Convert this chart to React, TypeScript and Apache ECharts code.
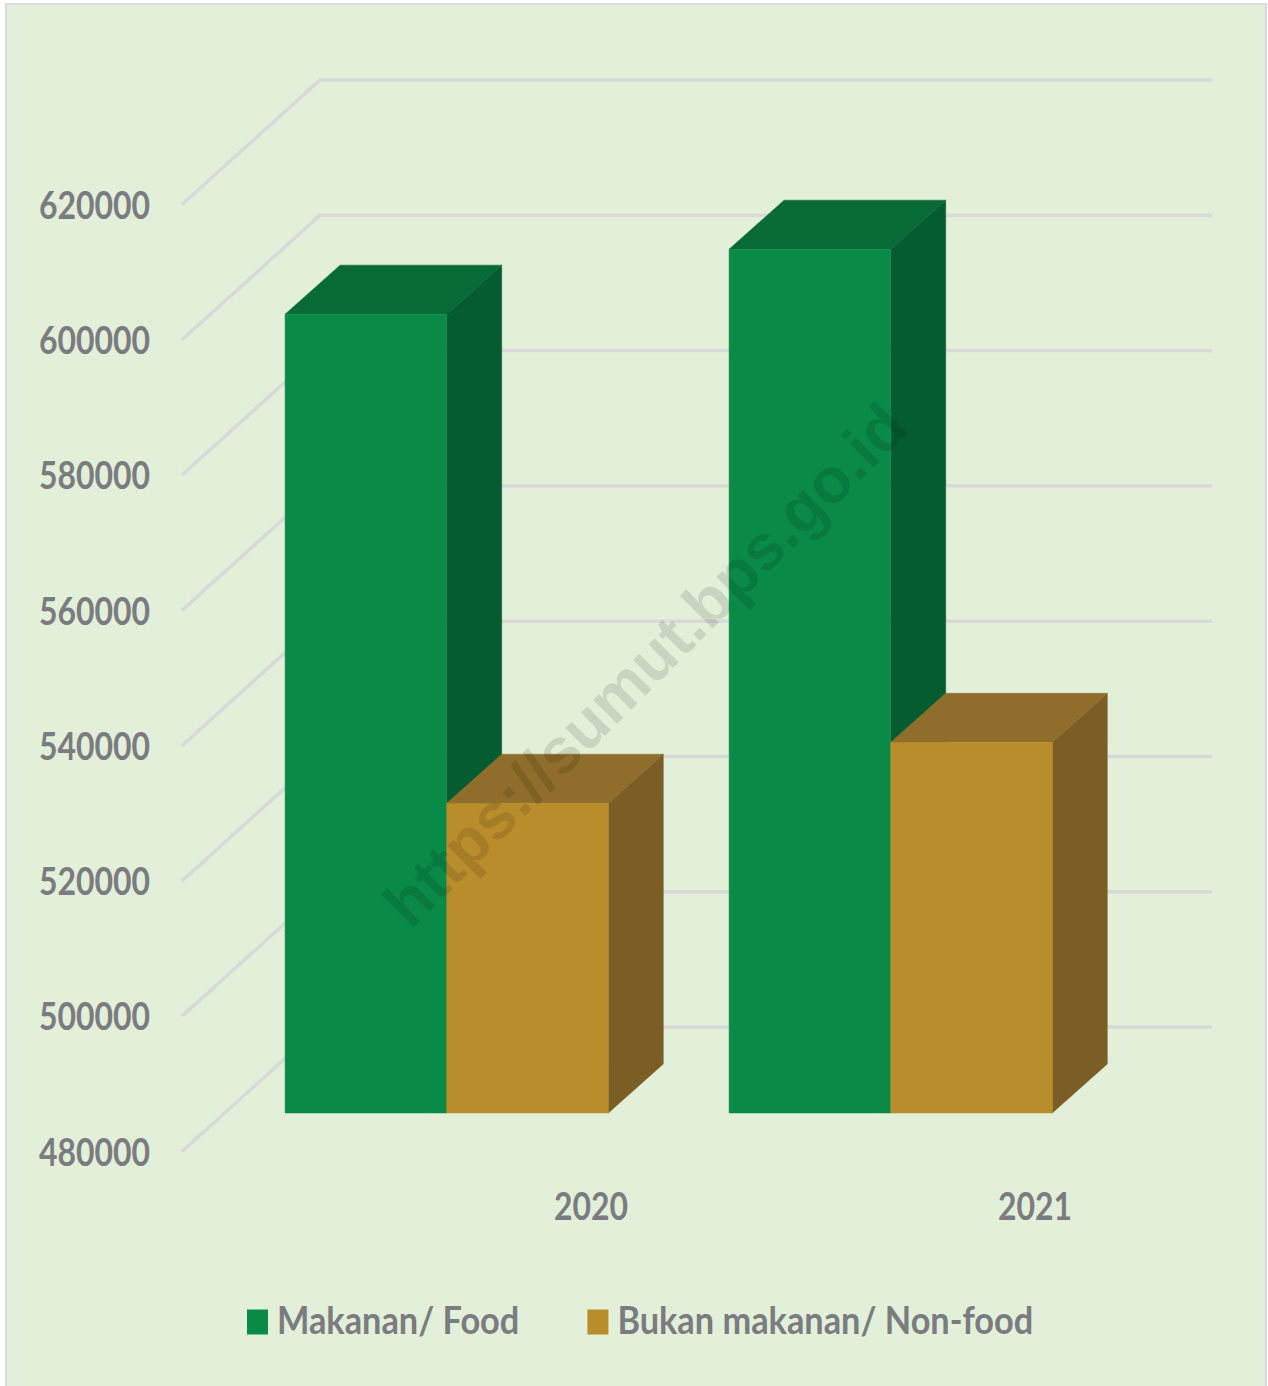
import React, { useEffect, useRef } from "react";
import * as echarts from "echarts";

const categories = ["2020", "2021"];
const yTicks = [480000, 500000, 520000, 540000, 560000, 580000, 600000, 620000];
const foodValues = [598100, 607700];
const nonFoodValues = [525800, 534800];
const legendNames = ["Makanan/ Food", "Bukan makanan/ Non-food"];
const FONT = "Lato, 'Liberation Sans', sans-serif";
const TEXT = "#7b7c80";
const WATERMARK = "https://sumut.bps.go.id";
const NARROW_AXIS = 0.84;
const NARROW_LEGEND = 0.903;

const WALL_DX = 138;
const WALL_DY = -124.5;
const FRONT_X = 182;
const BACK_RIGHT = 1212;
const BAR_DY = -38.5;
const CENTER_SHIFT = -144.3;
const BAR_W = 161.6;
const DEPTH_X = 55;
const DEPTH_Y = -49;

function barSeries(name: string, values: number[], side: -1 | 0, colors: string[]) {
  return {
    type: "custom",
    name,
    itemStyle: { color: colors[0] },
    encode: { x: 0, y: 1 },
    data: values.map((v, i) => [i, v]),
    renderItem: (_: any, api: any) => {
      const top = api.coord([api.value(0), api.value(1)]);
      const base = api.coord([api.value(0), 480000]);
      const x0 = top[0] + CENTER_SHIFT + side * BAR_W;
      const x1 = x0 + BAR_W;
      const yt = top[1] + BAR_DY;
      const yb = base[1] + BAR_DY;
      const poly = (points: number[][], fill: string) => ({
        type: "polygon",
        shape: { points },
        style: { fill, stroke: fill, lineWidth: 0.5 },
      });
      return {
        type: "group",
        children: [
          poly(
            [
              [x1, yt],
              [x1 + DEPTH_X, yt + DEPTH_Y],
              [x1 + DEPTH_X, yb + DEPTH_Y],
              [x1, yb],
            ],
            colors[2]
          ),
          poly(
            [
              [x0, yt],
              [x0 + DEPTH_X, yt + DEPTH_Y],
              [x1 + DEPTH_X, yt + DEPTH_Y],
              [x1, yt],
            ],
            colors[1]
          ),
          poly(
            [
              [x0, yt],
              [x1, yt],
              [x1, yb],
              [x0, yb],
            ],
            colors[0]
          ),
        ],
      };
    },
  };
}

// Calibri-like narrow look: squeeze each label around its own anchor point.
function narrowTexts(root: HTMLElement) {
  root.querySelectorAll("text").forEach((t) => {
    const content = t.textContent || "";
    if (content === WATERMARK || t.getAttribute("data-narrow")) return;
    const isLegend = legendNames.includes(content);
    const scale = isLegend ? NARROW_LEGEND : NARROW_AXIS;
    const dy = isLegend ? -3 : -1;
    const x = parseFloat(t.getAttribute("x") || "0");
    const old = t.getAttribute("transform") || "";
    t.setAttribute(
      "transform",
      `${old} translate(${x} ${dy}) scale(${scale} 1) translate(${-x} 0)`.trim()
    );
    t.setAttribute("data-narrow", "1");
  });
}

export default function App() {
  const ref = useRef<HTMLDivElement>(null);
  useEffect(() => {
    document.body.style.margin = "0";
    const chart = echarts.init(ref.current!, undefined, { renderer: "svg" });
    chart.on("finished", () => narrowTexts(ref.current!));
    chart.setOption({
      animation: false,
      backgroundColor: "#ffffff",
      grid: { left: 369, width: 888, top: 204.5, height: 947 },
      xAxis: {
        type: "category",
        data: categories,
        axisLine: { show: false },
        axisTick: { show: false },
        axisLabel: {
          margin: 35,
          fontFamily: FONT,
          fontWeight: "bold",
          fontSize: 38,
          color: TEXT,
        },
      },
      yAxis: {
        type: "value",
        min: 480000,
        max: 620000,
        interval: 20000,
        axisLine: { show: false },
        axisTick: { show: false },
        splitLine: { show: false },
        axisLabel: {
          margin: 219,
          fontFamily: FONT,
          fontWeight: "bold",
          fontSize: 38,
          color: TEXT,
          formatter: (v: number) => String(v),
        },
      },
      legend: {
        left: 242,
        top: 1298,
        icon: "rect",
        itemWidth: 21,
        itemHeight: 25,
        itemGap: 42,
        data: legendNames,
        textStyle: {
          fontFamily: FONT,
          fontWeight: "bold",
          fontSize: 38,
          color: TEXT,
          padding: [0, 0, 0, 4],
        },
      },
      graphic: [
        {
          type: "rect",
          z: -10,
          silent: true,
          shape: { x: 6, y: 4, width: 1260, height: 1390 },
          style: { fill: "#e2efd9", stroke: "#dbdbdb", lineWidth: 2 },
        },
        {
          type: "text",
          z: 100,
          silent: true,
          x: 645,
          y: 665,
          rotation: Math.PI / 4,
          style: {
            text: WATERMARK,
            fontFamily: "'Liberation Sans', sans-serif",
            fontWeight: "bold",
            fontSize: 64,
            fill: "rgba(0,0,0,0.11)",
            align: "center",
            verticalAlign: "middle",
          },
        },
      ],
      series: [
        {
          type: "custom",
          name: "grid",
          silent: true,
          encode: { x: 0, y: 1 },
          data: yTicks.map((v) => [0, v]),
          renderItem: (_: any, api: any) => {
            const p = api.coord([0, api.value(1)]);
            return {
              type: "polyline",
              shape: {
                points: [
                  [FRONT_X, p[1]],
                  [FRONT_X + WALL_DX, p[1] + WALL_DY],
                  [BACK_RIGHT, p[1] + WALL_DY],
                ],
              },
              style: { stroke: "#d9d9d9", lineWidth: 3.5, fill: "none" },
            };
          },
        },
        barSeries(legendNames[0], foodValues, -1, ["#0a8a47", "#076a37", "#055c30"]),
        barSeries(legendNames[1], nonFoodValues, 0, ["#b98d2b", "#8e6e2a", "#7b5e26"]),
      ],
    });
    narrowTexts(ref.current!);
    return () => chart.dispose();
  }, []);
  return <div ref={ref} style={{ width: 1268, height: 1386 }} />;
}
